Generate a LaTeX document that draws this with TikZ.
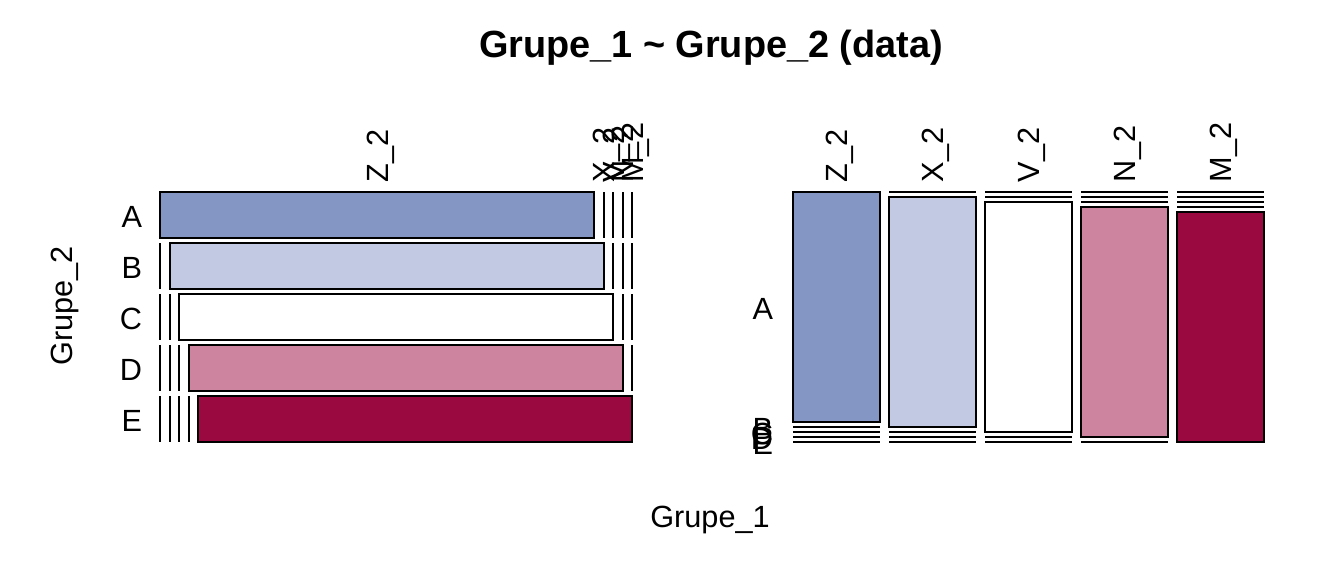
\documentclass[tikz,border=0pt]{standalone}
\usepackage{fontspec}
\setmainfont{Liberation Sans}
\definecolor{cA}{RGB}{132,151,196}
\definecolor{cB}{RGB}{193,202,226}
\definecolor{cC}{RGB}{255,255,255}
\definecolor{cD}{RGB}{205,132,158}
\definecolor{cE}{RGB}{154,10,64}
\begin{document}
\begin{tikzpicture}[x=0.75pt,y=-0.75pt,
  cell/.style={draw=black,line width=1.5pt},
  zline/.style={draw=black,line width=1.5pt},
  lab/.style={inner sep=0pt,outer sep=0pt,font=\fontsize{23}{27}\selectfont},
  ttl/.style={inner sep=0pt,outer sep=0pt,font=\fontsize{28.4}{32}\selectfont\bfseries}]
\useasboundingbox (0,0) rectangle (1344,576);
\fill[white] (0,0) rectangle (1344,576);
% title
\node[ttl,anchor=base] (title) at (711,57) {Grupe\_1 \textasciitilde{} Grupe\_2 (data)};
% ---------- left panel ----------
\foreach \i/\c in {0/cA,1/cB,2/cC,3/cD,4/cE} {
  \pgfmathsetmacro\ty{192+51*\i}
  \pgfmathsetmacro\by{\ty+46}
  \draw[cell,fill=\c] ({160+9.5*\i},\ty) rectangle ({594+9.5*\i},\by);
  \foreach \j in {0,...,4} {
    \ifnum\j<\i \draw[zline] ({160+9.5*\j},\ty) -- ({160+9.5*\j},\by); \fi
    \ifnum\j>\i \draw[zline] ({594+9.5*\j},\ty) -- ({594+9.5*\j},\by); \fi
  }
}
\foreach \i/\l in {0/A,1/B,2/C,3/D,4/E} {
  \node[lab,anchor=base east] (ly\l) at (142,{227+51*\i}) {\l};
}
\node[lab,rotate=90,anchor=base west] (lxZ) at (388,182) {Z\_2};
\foreach \i/\l in {1/X,2/V,3/N,4/M} {
  \node[lab,rotate=90,anchor=base west] (lx\l) at ({605+9.5*\i},182) {\l\_2};
}
\node[lab,rotate=90,anchor=base] (ylab) at (72,306) {Grupe\_2};
% ---------- right panel ----------
\foreach \i/\c in {0/cA,1/cB,2/cC,3/cD,4/cE} {
  \pgfmathsetmacro\lx{793+96*\i}
  \pgfmathsetmacro\rx{\lx+86.5}
  \draw[cell,fill=\c] (\lx,{192+5*\i}) rectangle (\rx,{422+5*\i});
  \foreach \j in {0,...,4} {
    \ifnum\j<\i \draw[zline] (\lx,{192+5*\j}) -- (\rx,{192+5*\j}); \fi
    \ifnum\j>\i \draw[zline] (\lx,{422+5*\j}) -- (\rx,{422+5*\j}); \fi
  }
}
\foreach \i/\l in {0/Z,1/X,2/V,3/N,4/M} {
  \node[lab,rotate=90,anchor=base west] (rx\l) at ({847+96*\i},182) {\l\_2};
}
\node[lab,anchor=base east] (ryA) at (773,319) {A};
\foreach \i/\l in {1/B,2/C,3/D,4/E} {
  \node[lab,anchor=base east] (ry\l) at (773,{434+5*\i}) {\l};
}
\node[lab,anchor=base] (xlab) at (710,527) {Grupe\_1};
\end{tikzpicture}
\end{document}
